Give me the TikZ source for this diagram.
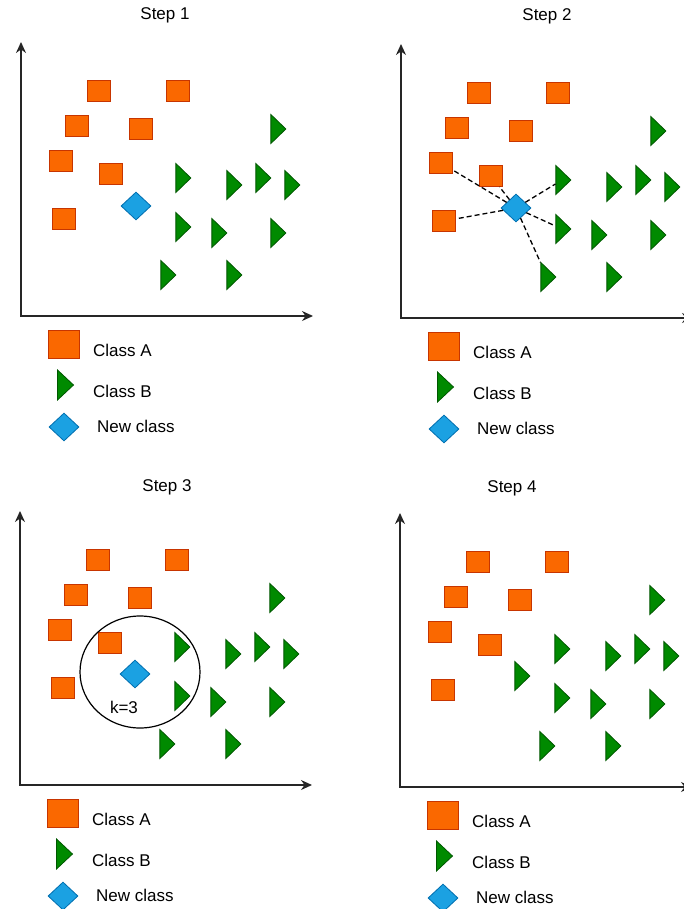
\documentclass[tikz,border=0pt]{standalone}
\usepackage{fontspec}
\setmainfont{Liberation Sans}
\usepackage{tikz}
\usetikzlibrary{arrows.meta,positioning,shapes.geometric}

\definecolor{clsA}{HTML}{FA6800}
\definecolor{clsAline}{HTML}{C73500}
\definecolor{clsB}{HTML}{008A00}
\definecolor{clsBline}{HTML}{005700}
\definecolor{newcls}{HTML}{1BA1E2}
\definecolor{newclsline}{HTML}{006EAF}

% axes of one plot, corner at the scope origin
\newcommand{\knnaxes}{%
  \coordinate (o) at (0,0);
  \coordinate (ytop) at (0,-274);
  \coordinate (xend) at (292,0);
  \draw[axis] (ytop) -- (o) -- (xend);
}

% the labelled training points
\newcommand{\knnpoints}{%
  \node[clsa] (a1) at (78,-225) {};
  \node[clsa] (a2) at (157,-225) {};
  \node[clsa] (a3) at (56,-190) {};
  \node[clsa] (a4) at (120,-187) {};
  \node[clsa] (a5) at (40,-155) {};
  \node[clsa] (a6) at (90,-142) {};
  \node[clsa] (a7) at (43,-97) {};
  \node[clsb] (b1) at (256,-187) {};
  \node[clsb] (b2) at (161,-138) {};
  \node[clsb] (b3) at (212,-131) {};
  \node[clsb] (b4) at (241,-138) {};
  \node[clsb] (b5) at (270,-131) {};
  \node[clsb] (b6) at (161,-89) {};
  \node[clsb] (b7) at (197,-83) {};
  \node[clsb] (b8) at (256,-83) {};
  \node[clsb] (b9) at (146,-41) {};
  \node[clsb] (b10) at (212,-41) {};
}

% legend under the x axis
\newcommand{\knnlegend}{%
  \node[clsa, minimum width=31pt, minimum height=28pt] (keya) at (43,28) {};
  \node[key] (txta) at (72,34) {Class A};
  \node[clsb, minimum width=30pt, minimum height=16pt] (keyb) at (43,69) {};
  \node[key] (txtb) at (72,75) {Class B};
  \node[newc] (keyn) at (43,111) {};
  \node[key] (txtn) at (76,110) {New class};
}

\begin{document}
\begin{tikzpicture}[x=1pt, y=-1pt,
  font=\fontsize{17}{20}\selectfont,
  clsa/.style={rectangle, draw=clsAline, fill=clsA, line width=0.8pt, minimum width=23pt, minimum height=21pt, inner sep=0pt},
  clsb/.style={isosceles triangle, isosceles triangle stretches, shape border rotate=0,
    draw=clsBline, fill=clsB, line width=0.8pt, minimum width=29pt, minimum height=15pt, inner sep=0pt},
  newc/.style={diamond, draw=newclsline, fill=newcls, line width=0.8pt, minimum width=30pt, minimum height=28pt, inner sep=0pt},
  axis/.style={line width=1.4pt, draw=black!85, {Stealth[length=11pt,width=10pt]}-{Stealth[length=11pt,width=10pt]}},
  nn/.style={line width=1.3pt, dash pattern=on 5pt off 3pt},
  key/.style={anchor=west, inner sep=0pt},
  title/.style={font=\fontsize{17}{20}\selectfont}]
  \useasboundingbox (0,0) rectangle (684,909);

  % Step 1
  \begin{scope}[shift={(21,316)}, name prefix=s1-]
    \node[title] (head) at (144,-301) {Step 1};
    \knnaxes
    \knnpoints
    \node[newc] (n) at (115,-110) {};
    \knnlegend
  \end{scope}

  % Step 2
  \begin{scope}[shift={(401,318)}, name prefix=s2-]
    \node[title] (head) at (146,-302) {Step 2};
    \knnaxes
    \knnpoints
    \node[newc] (n) at (115,-110) {};
    \path[nn] (n) edge (a5) edge (a6) edge (a7)
                  edge (b2) edge (b6) edge (b9);
    \knnlegend
  \end{scope}

  % Step 3
  \begin{scope}[shift={(20,785)}, name prefix=s3-]
    \node[title] (head) at (147,-298) {Step 3};
    \knnaxes
    \knnpoints
    \node[newc] (n) at (115,-111) {};
    \node[ellipse, draw, line width=1.2pt, minimum width=120pt, minimum height=112pt] (ring) at (120,-113) {};
    \node (k) at (104,-78) {k=3};
    \knnlegend
  \end{scope}

  % Step 4
  \begin{scope}[shift={(400,787)}, name prefix=s4-]
    \node[title] (head) at (112,-299) {Step 4};
    \knnaxes
    \knnpoints
    \node[clsb] (n) at (121,-111) {};
    \knnlegend
  \end{scope}
\end{tikzpicture}
\end{document}
